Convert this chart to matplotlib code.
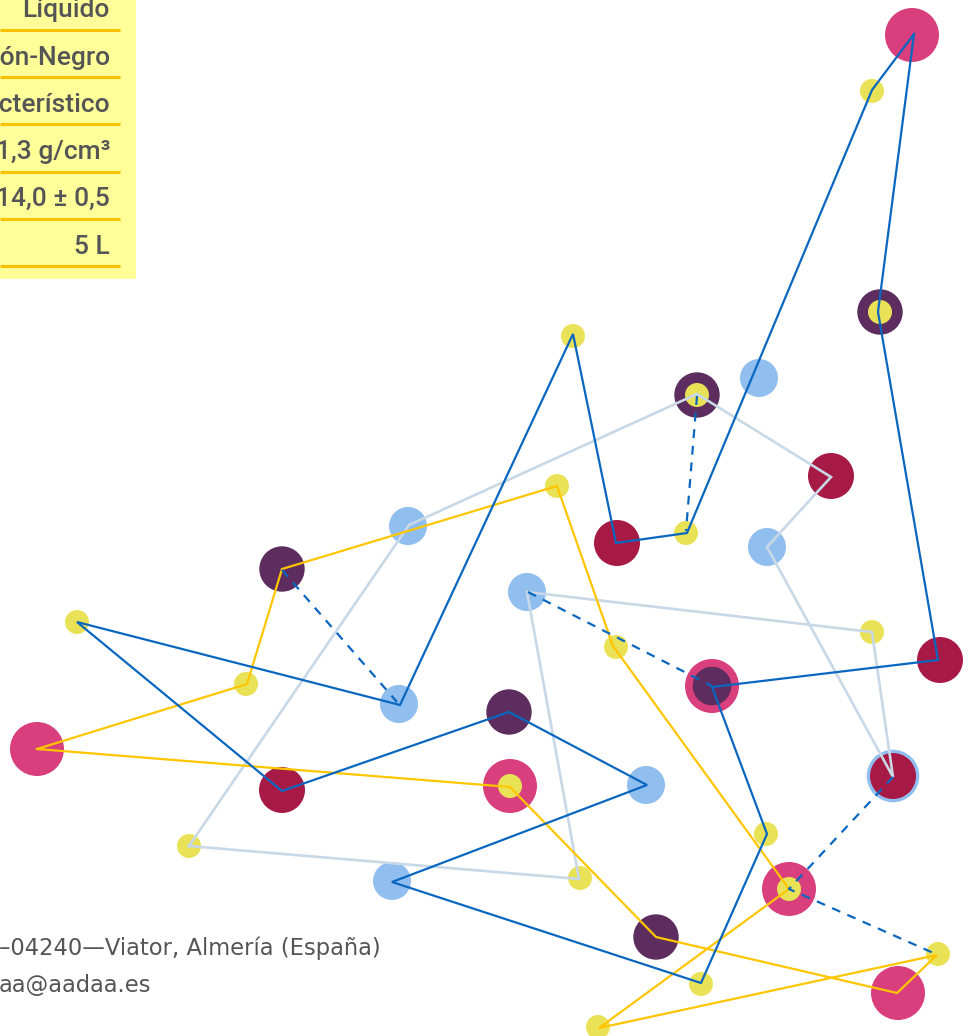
import matplotlib
matplotlib.use("Agg")
import matplotlib.pyplot as plt
from matplotlib import font_manager

# ---------------- data ----------------
# nodes: centre x, centre y (pixel space), outer kind, inner kind ('' = none)
node_x = [912, 872, 880, 573, 759, 697, 831, 557, 408, 617, 686, 767, 282, 527,
          77, 872, 616, 940, 712, 246, 399, 509, 37, 893, 510, 282, 646, 766,
          189, 392, 580, 789, 656, 938, 701, 898, 598]
node_y = [35, 91, 312, 336, 378, 395, 476, 486, 526, 543, 533, 547, 569, 592,
          622, 632, 647, 660, 686, 684, 704, 712, 749, 776, 786, 790, 785, 834,
          846, 881, 878, 889, 937, 954, 984, 993, 1027]
node_outer = ["pink", "yellow", "purple", "yellow", "lightblue", "purple", "crimson",
              "yellow", "lightblue", "crimson", "yellow", "lightblue", "purple",
              "lightblue", "yellow", "yellow", "yellow", "crimson", "pink", "yellow",
              "lightblue", "purple", "pink", "ring_lightblue", "pink", "crimson",
              "lightblue", "yellow", "yellow", "lightblue", "yellow", "pink",
              "purple", "yellow", "yellow", "pink", "yellow"]
node_inner = ["", "", "yellow", "", "", "yellow", "", "", "", "", "", "", "",
              "", "", "", "", "", "purple_in", "", "", "", "", "crimson", "yellow",
              "", "", "", "", "", "", "yellow", "", "", "", "", ""]

# dark blue closed path
blue_x = [914, 878, 938, 712, 767, 701, 392, 647, 509, 282, 77, 400, 573, 616, 687, 872, 914]
blue_y = [34, 312, 660, 687, 834, 983, 882, 785, 712, 791, 622, 705, 334, 543, 533, 90, 34]

# dashed blue segments
dash_segments = [
    ([282, 397], [570, 702]),
    ([697, 686], [396, 531]),
    ([528, 712], [592, 686]),
    ([893, 789, 938], [777, 889, 955]),
]

# light grey-blue closed path
grey_x = [189, 409, 697, 831, 767, 893, 872, 527, 579, 189]
grey_y = [846, 525, 394, 477, 547, 777, 632, 592, 879, 846]

# gold closed path
gold_x = [37, 247, 282, 557, 613, 789, 599, 937, 897, 656, 510, 37]
gold_y = [749, 684, 569, 486, 646, 889, 1028, 955, 993, 937, 787, 749]

# table rows (text is cut by the left page edge, as in the reference)
table_labels = ["Líquido", "Marrón-Negro", "Característico", "1,3 g/cm³", "14,0 ± 0,5", "5 L"]
address_lines = ["–04240—Viator, Almería (España)", "aa@aadaa.es"]

# ---------------- style ----------------
kind_color = {
    "pink": "#D93F7C", "yellow": "#E9E257", "purple": "#5C2D5E",
    "lightblue": "#90BEEE", "crimson": "#A81A46", "ring_lightblue": "#90BEEE",
    "purple_in": "#5C2D5E",
}
kind_radius = {
    "pink": 27, "yellow": 12, "purple": 22.7, "lightblue": 19, "crimson": 23,
    "ring_lightblue": 26.3, "purple_in": 19.3,
}

available = {f.name for f in font_manager.fontManager.ttflist}
tfont = "Roboto" if "Roboto" in available else "DejaVu Sans"

W, H, DPI = 973, 1036, 100
fig = plt.figure(figsize=(W / DPI, H / DPI), dpi=DPI)
fig.patch.set_facecolor("white")
ax = fig.add_axes([0, 0, 1, 1])
ax.set_xlim(0, W)
ax.set_ylim(H, 0)
ax.set_aspect("equal")
ax.axis("off")

# table background
ax.add_patch(plt.Rectangle((0, 0), 136, 279, facecolor="#FFFF99", edgecolor="none", zorder=0))
row_h = 47.2
for i, lab in enumerate(table_labels):
    base = 18 + i * row_h
    ax.text(110, base - 0.5, lab, ha="right", va="baseline", fontsize=19,
            family=[tfont, "DejaVu Sans"], weight="medium", color="#555555", zorder=1)
    ax.plot([0, 120], [base + 12, base + 12], color="#F9C000", lw=2.2,
            solid_capstyle="butt", zorder=1)

# address text
for i, t in enumerate(address_lines):
    ax.text(-1, 955 + i * 37, t, ha="left", va="baseline", fontsize=16.3,
            family="DejaVu Sans", color="#555555", zorder=1)

# circles (outer then inner)
def pts_size(r):
    return (2 * r * 72 / DPI) ** 2

for x, y, o, inn in zip(node_x, node_y, node_outer, node_inner):
    ax.scatter([x], [y], s=pts_size(kind_radius[o]), color=kind_color[o],
               edgecolors="none", zorder=2)
    if inn:
        ax.scatter([x], [y], s=pts_size(kind_radius[inn]), color=kind_color[inn],
                   edgecolors="none", zorder=2.1)

# lines
ax.plot(grey_x, grey_y, color="#C8D8E6", lw=1.9, zorder=3, solid_joinstyle="miter")
ax.plot(gold_x, gold_y, color="#FFC600", lw=1.6, zorder=3.1, solid_joinstyle="miter")
ax.plot(blue_x, blue_y, color="#0A67C0", lw=1.6, zorder=3.2, solid_joinstyle="miter")
for sx, sy in dash_segments:
    ax.plot(sx, sy, color="#0A67C0", lw=1.6, ls=(0, (4, 3.5)), zorder=3.2)

fig.savefig("out.png", dpi=DPI, facecolor="white")
